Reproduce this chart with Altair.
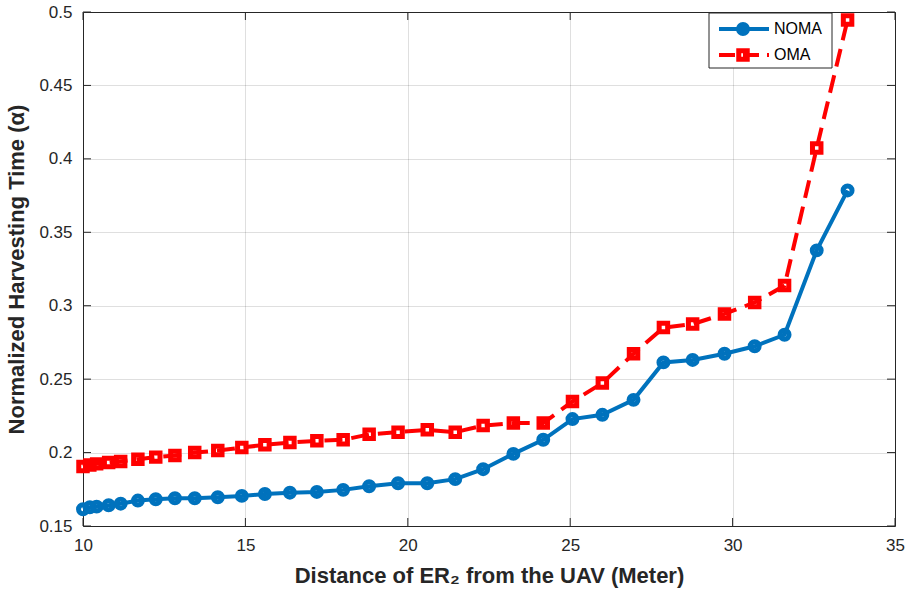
import altair as alt
import pandas as pd

# Distance of ER2 from the UAV (m) and the normalized harvesting time for each scheme
distance = [10.0, 10.21, 10.42, 10.79, 11.16, 11.69, 12.24, 12.83, 13.44, 14.15,
            14.89, 15.60, 16.37, 17.20, 18.01, 18.81, 19.70, 20.60, 21.46, 22.32,
            23.25, 24.17, 25.07, 25.99, 26.95, 27.87, 28.77, 29.75, 30.68, 31.60,
            32.59, 33.54]
noma = [0.1614, 0.1628, 0.1632, 0.1641, 0.1652, 0.1673, 0.1682, 0.1689, 0.1689, 0.1696,
        0.1705, 0.1718, 0.1727, 0.1732, 0.1746, 0.1771, 0.1791, 0.1791, 0.1819, 0.1887,
        0.1991, 0.2087, 0.2228, 0.2257, 0.2359, 0.2614, 0.2631, 0.2673, 0.2724, 0.2802,
        0.3377, 0.3785]
oma = [0.1905, 0.1916, 0.1923, 0.1932, 0.1939, 0.1955, 0.1969, 0.1980, 0.2000, 0.2014,
       0.2034, 0.2053, 0.2068, 0.2080, 0.2087, 0.2124, 0.2139, 0.2155, 0.2139, 0.2184,
       0.2201, 0.2201, 0.2348, 0.2473, 0.2673, 0.2851, 0.2875, 0.2944, 0.3022, 0.3137,
       0.4074, 0.4946]

x_ticks = [10, 15, 20, 25, 30, 35]
y_ticks = [0.15, 0.2, 0.25, 0.3, 0.35, 0.4, 0.45, 0.5]
legend_labels = ["NOMA", "OMA"]

W, H = 812, 514
FONT = "Liberation Sans"
BLUE = "#0072BD"
RED = "#FF0000"
INK = "#262626"
TICK = 8

df = pd.DataFrame({"d": distance, "NOMA": noma, "OMA": oma})
xt = pd.DataFrame({"t": x_ticks})
yt = pd.DataFrame({"t": y_ticks})
one = pd.DataFrame({"k": [0]})

xs = alt.Scale(domain=[10, 35], nice=False, zero=False)
ys = alt.Scale(domain=[0.15, 0.5], nice=False, zero=False)

x_axis = alt.Axis(values=x_ticks, title="Distance of ER₂ from the UAV (Meter)",
                  grid=True, ticks=False, domain=False, labelPadding=11,
                  labelFlush=False, titlePadding=12, format="d")
y_axis = alt.Axis(values=y_ticks, title="Normalized Harvesting Time (α)",
                  grid=True, ticks=False, domain=False, labelPadding=11,
                  labelFlush=False, titlePadding=10, format="~g")


def X(field):
    return alt.X(field, type="quantitative", scale=xs, axis=x_axis)


def Y(field):
    return alt.Y(field, type="quantitative", scale=ys, axis=y_axis)


base = alt.Chart(df)

noma_line = base.mark_line(color=BLUE, strokeWidth=4).encode(x=X("d"), y=Y("NOMA"))
noma_pts = base.mark_point(shape="circle", filled=False, color=BLUE, strokeWidth=5,
                           size=80, opacity=1).encode(x=X("d"), y=Y("NOMA"))
oma_line = base.mark_line(color=RED, strokeWidth=4, strokeDash=[18, 9]).encode(
    x=X("d"), y=Y("OMA"))
oma_pts = base.mark_point(shape="square", filled=False, color=RED, strokeWidth=5,
                          size=72, opacity=1).encode(x=X("d"), y=Y("OMA"))

# inward-pointing ticks on all four sides of the box
tick_style = dict(color=INK, strokeWidth=1)
ticks_bottom = alt.Chart(xt).mark_rule(**tick_style).encode(
    x=X("t"), y=alt.value(H), y2=alt.value(H - TICK))
ticks_top = alt.Chart(xt).mark_rule(**tick_style).encode(
    x=X("t"), y=alt.value(0), y2=alt.value(TICK))
ticks_left = alt.Chart(yt).mark_rule(**tick_style).encode(
    y=Y("t"), x=alt.value(0), x2=alt.value(TICK))
ticks_right = alt.Chart(yt).mark_rule(**tick_style).encode(
    y=Y("t"), x=alt.value(W), x2=alt.value(W - TICK))

# legend box in the upper right corner
LX0, LX1, LY0, LY1 = 626, 749, 1, 56
ROW1, ROW2 = 17, 43
legend_box = alt.Chart(one).mark_rect(fill="white", stroke=INK, strokeWidth=1).encode(
    x=alt.value(LX0), x2=alt.value(LX1), y=alt.value(LY0), y2=alt.value(LY1))
leg_noma_line = alt.Chart(one).mark_rule(color=BLUE, strokeWidth=4).encode(
    x=alt.value(636), x2=alt.value(686), y=alt.value(ROW1))
leg_noma_pt = alt.Chart(one).mark_point(shape="circle", filled=False, color=BLUE,
                                        strokeWidth=5, size=80, opacity=1).encode(
    x=alt.value(660), y=alt.value(ROW1))
leg_oma_line = alt.Chart(one).mark_rule(color=RED, strokeWidth=4, strokeDash=[16, 8]).encode(
    x=alt.value(636), x2=alt.value(686), y=alt.value(ROW2))
leg_oma_pt = alt.Chart(one).mark_point(shape="square", filled=False, color=RED,
                                       strokeWidth=5, size=72, opacity=1).encode(
    x=alt.value(660), y=alt.value(ROW2))
leg_text1 = alt.Chart(one).mark_text(text=legend_labels[0], font=FONT, fontSize=16,
                                     color="black", align="left", baseline="middle").encode(
    x=alt.value(691), y=alt.value(ROW1))
leg_text2 = alt.Chart(one).mark_text(text=legend_labels[1], font=FONT, fontSize=16,
                                     color="black", align="left", baseline="middle").encode(
    x=alt.value(691), y=alt.value(ROW2))

chart = alt.layer(
    noma_line, noma_pts, oma_line, oma_pts,
    ticks_bottom, ticks_top, ticks_left, ticks_right,
    legend_box, leg_noma_line, leg_noma_pt, leg_oma_line, leg_oma_pt, leg_text1, leg_text2,
).properties(
    width=W, height=H,
    autosize=alt.AutoSizeParams(type="none"),
    padding={"left": 83, "top": 12, "right": 13, "bottom": 70},
    background="white",
).configure_view(
    stroke=INK, strokeWidth=1,
).configure_axis(
    labelFont=FONT, labelFontSize=17, labelColor=INK,
    titleFont=FONT, titleFontSize=22, titleFontWeight="bold", titleColor=INK,
    gridColor=INK, gridOpacity=0.15, gridWidth=1,
)

chart.save("out.html", embed_options={"renderer": "svg", "actions": False})
